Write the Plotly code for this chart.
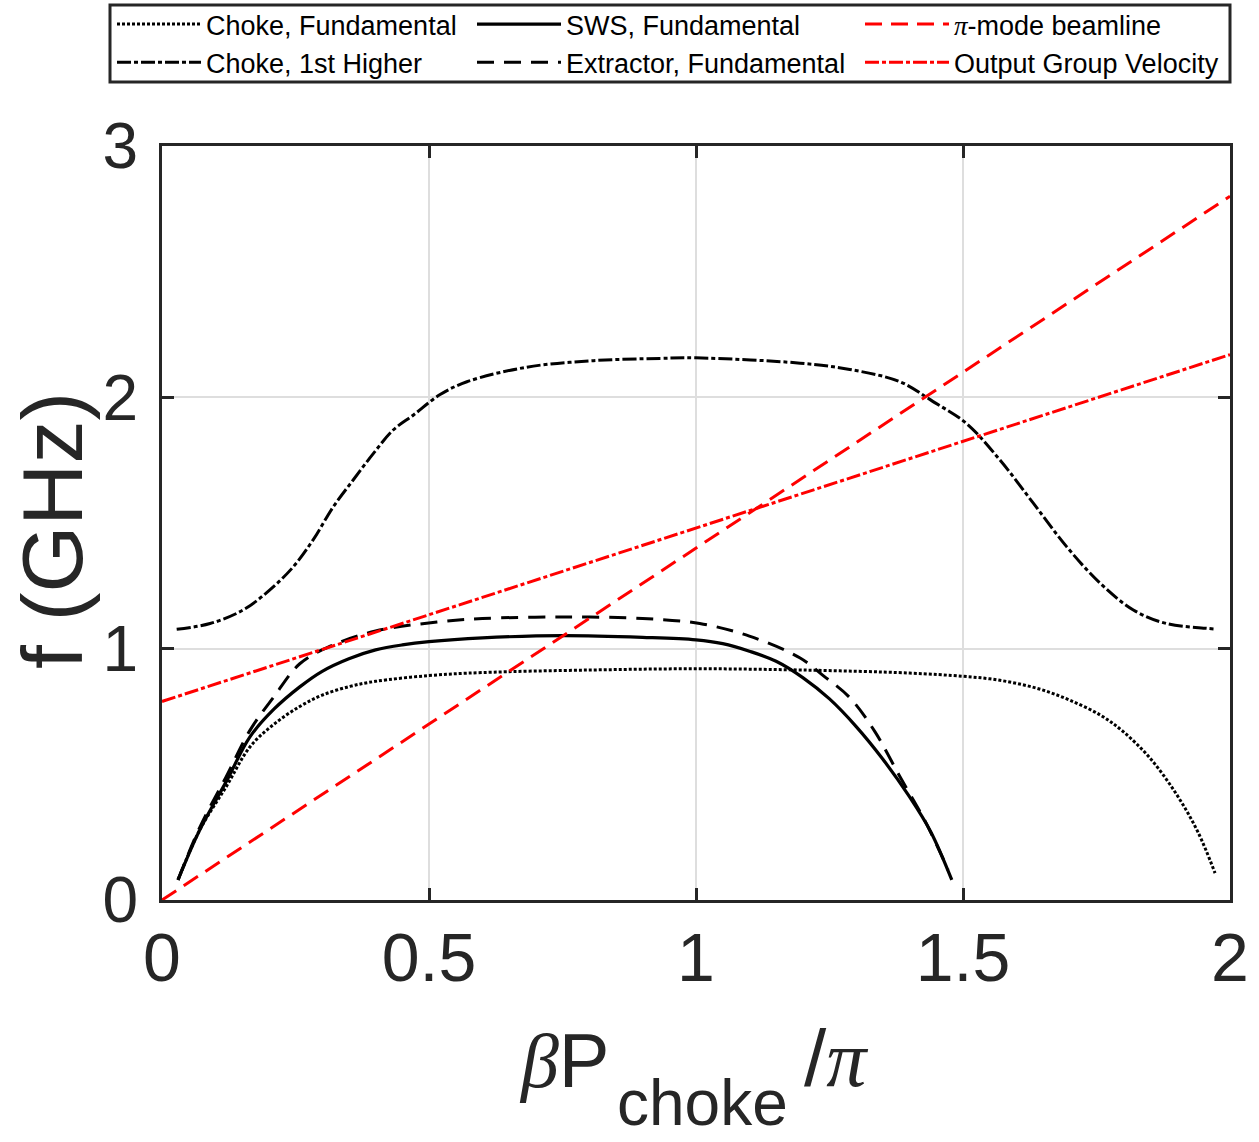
import plotly.graph_objects as go

# ---- data ----
choke_fund_x = [0.03, 0.071, 0.12, 0.165, 0.21, 0.258, 0.30, 0.352, 0.40, 0.50, 0.60, 0.80, 1.00,
                1.20, 1.40, 1.50, 1.55, 1.60, 1.65, 1.70, 1.757, 1.80, 1.85, 1.90, 1.94, 1.972]
choke_fund_f = [0.08, 0.28, 0.45, 0.61, 0.70, 0.77, 0.815, 0.85, 0.87, 0.893, 0.905, 0.915, 0.92,
                0.915, 0.903, 0.89, 0.88, 0.862, 0.835, 0.795, 0.736, 0.67, 0.565, 0.42, 0.27, 0.107]

choke_high_x = [0.0275, 0.09, 0.152, 0.202, 0.246, 0.283, 0.321, 0.358, 0.396, 0.433, 0.471, 0.52,
                0.571, 0.683, 0.808, 0.933, 1.0, 1.195, 1.288, 1.382, 1.444, 1.506, 1.569, 1.632,
                1.694, 1.757, 1.819, 1.881, 1.956, 1.972]
choke_high_f = [1.077, 1.10, 1.154, 1.234, 1.326, 1.433, 1.565, 1.671, 1.777, 1.87, 1.93, 2.01,
                2.062, 2.12, 2.146, 2.155, 2.157, 2.136, 2.111, 2.062, 1.983, 1.897, 1.751, 1.578,
                1.406, 1.26, 1.154, 1.10, 1.081, 1.078]

sws_x = [0.03, 0.071, 0.12, 0.165, 0.21, 0.258, 0.30, 0.35, 0.40, 0.45, 0.50, 0.60, 0.75, 0.90,
         1.0, 1.05, 1.10, 1.15, 1.20, 1.25, 1.30, 1.35, 1.40, 1.44, 1.479]
sws_f = [0.08, 0.28, 0.47, 0.65, 0.76, 0.848, 0.91, 0.96, 0.995, 1.015, 1.028, 1.043, 1.052, 1.045,
         1.035, 1.02, 0.99, 0.95, 0.885, 0.80, 0.69, 0.56, 0.41, 0.27, 0.08]

extr_x = [0.03, 0.071, 0.12, 0.165, 0.21, 0.258, 0.315, 0.40, 0.515, 0.60, 0.75, 0.90, 1.007,
          1.10, 1.195, 1.24, 1.288, 1.335, 1.382, 1.43, 1.472]
extr_f = [0.08, 0.29, 0.49, 0.676, 0.81, 0.94, 1.01, 1.07, 1.106, 1.12, 1.126, 1.12, 1.10,
          1.05, 0.963, 0.89, 0.805, 0.67, 0.49, 0.31, 0.12]

beam_x = [0.0, 2.0]
beam_f = [0.0, 2.80]

gv_x = [0.0, 2.0]
gv_f = [0.79, 2.17]

x_ticks = [0, 0.5, 1, 1.5, 2]
x_tick_text = ["0", "0.5", "1", "1.5", "2"]
y_ticks = [0, 1, 2, 3]
y_tick_text = ["0", "1", "2", "3"]

# ---- figure ----
W, H = 1259, 1142
L, R, T, B = 162, 29, 146, 242
PW, PH = W - L - R, H - T - B
FONT = "Liberation Sans, Arial, sans-serif"
SERIF = "'Liberation Serif', 'DejaVu Serif', serif"
AX = "#262626"
PI = f"<span style=\"font-family:{SERIF}\"><i>π</i></span>"
BETA = f"<span style=\"font-family:{SERIF}\"><i>β</i></span>"


def px_x(p):
    return (p - L) / PW


def px_y(p):
    return (H - B - p) / PH


SPL = dict(shape="spline", smoothing=1.0)

fig = go.Figure()
fig.add_trace(go.Scatter(x=choke_fund_x, y=choke_fund_f, mode="lines", name="Choke, Fundamental",
                         legend="legend",
                         line=dict(color="black", width=3, dash="3px,2px", **SPL)))
fig.add_trace(go.Scatter(x=choke_high_x, y=choke_high_f, mode="lines", name="Choke, 1st Higher",
                         legend="legend",
                         line=dict(color="black", width=3, dash="14px,3px,4px,3px", **SPL)))
fig.add_trace(go.Scatter(x=sws_x, y=sws_f, mode="lines", name="SWS, Fundamental",
                         legend="legend2",
                         line=dict(color="black", width=3.2, **SPL)))
fig.add_trace(go.Scatter(x=extr_x, y=extr_f, mode="lines", name="Extractor, Fundamental",
                         legend="legend2",
                         line=dict(color="black", width=3, dash="17px,10px", **SPL)))
fig.add_trace(go.Scatter(x=beam_x, y=beam_f, mode="lines", name=PI + "-mode beamline",
                         legend="legend3",
                         line=dict(color="#ff0000", width=3, dash="17px,9px")))
fig.add_trace(go.Scatter(x=gv_x, y=gv_f, mode="lines", name="Output Group Velocity",
                         legend="legend3",
                         line=dict(color="#ff0000", width=3, dash="14px,3px,4px,3px")))


def leg(xpx):
    return dict(orientation="v", xref="container", yref="container",
                x=xpx / W, xanchor="left", y=1.0, yanchor="top",
                itemwidth=84, font=dict(family=FONT, size=27, color="black"),
                borderwidth=0, bgcolor="rgba(0,0,0,0)", traceorder="normal")


fig.update_layout(
    width=W, height=H,
    margin=dict(l=L, r=R, t=T, b=B, autoexpand=False),
    paper_bgcolor="white", plot_bgcolor="white",
    font=dict(family=FONT, color=AX),
    showlegend=True,
    legend=leg(112), legend2=leg(472), legend3=leg(860),
    xaxis=dict(range=[0, 2], tickvals=x_ticks, ticktext=x_tick_text,
               showgrid=True, gridcolor="#dedede", gridwidth=2,
               showline=True, linecolor=AX, linewidth=3, mirror="ticks",
               ticks="inside", ticklen=12, tickwidth=3, tickcolor=AX,
               tickfont=dict(family=FONT, size=68, color=AX), zeroline=False,
               ticklabelstandoff=-4),
    yaxis=dict(range=[0, 3], tickvals=y_ticks, ticktext=y_tick_text,
               showgrid=True, gridcolor="#dedede", gridwidth=2,
               showline=True, linecolor=AX, linewidth=3, mirror="ticks",
               ticks="inside", ticklen=12, tickwidth=3, tickcolor=AX,
               tickfont=dict(family=FONT, size=64, color=AX), zeroline=False,
               ticklabelstandoff=8),
    shapes=[dict(type="rect", xref="paper", yref="paper",
                 x0=px_x(110), x1=px_x(1230), y0=px_y(82), y1=px_y(5),
                 line=dict(color=AX, width=3), fillcolor="rgba(0,0,0,0)", layer="above")],
    annotations=[
        dict(text="f (GHz)", xref="paper", yref="paper", x=px_x(52), y=px_y(531),
             xanchor="center", yanchor="middle", textangle=-90, showarrow=False,
             height=96, valign="middle", borderpad=0,
             font=dict(family=FONT, size=86, color=AX)),
        dict(text=BETA + "P", xref="paper", yref="paper", x=px_x(612), y=px_y(1060),
             xanchor="right", yanchor="middle", showarrow=False,
             font=dict(family=FONT, size=76, color=AX)),
        dict(text="choke", xref="paper", yref="paper", x=px_x(616), y=px_y(1103),
             xanchor="left", yanchor="middle", showarrow=False,
             borderpad=0,
             font=dict(family=FONT, size=64, color=AX)),
        dict(text="/" + PI, xref="paper", yref="paper", x=px_x(802), y=px_y(1058),
             xanchor="left", yanchor="middle", showarrow=False,
             font=dict(family=FONT, size=80, color=AX)),
    ],
)

fig.write_html("out.html", config={"displayModeBar": False},
               post_script="document.body.style.margin='0px';")
